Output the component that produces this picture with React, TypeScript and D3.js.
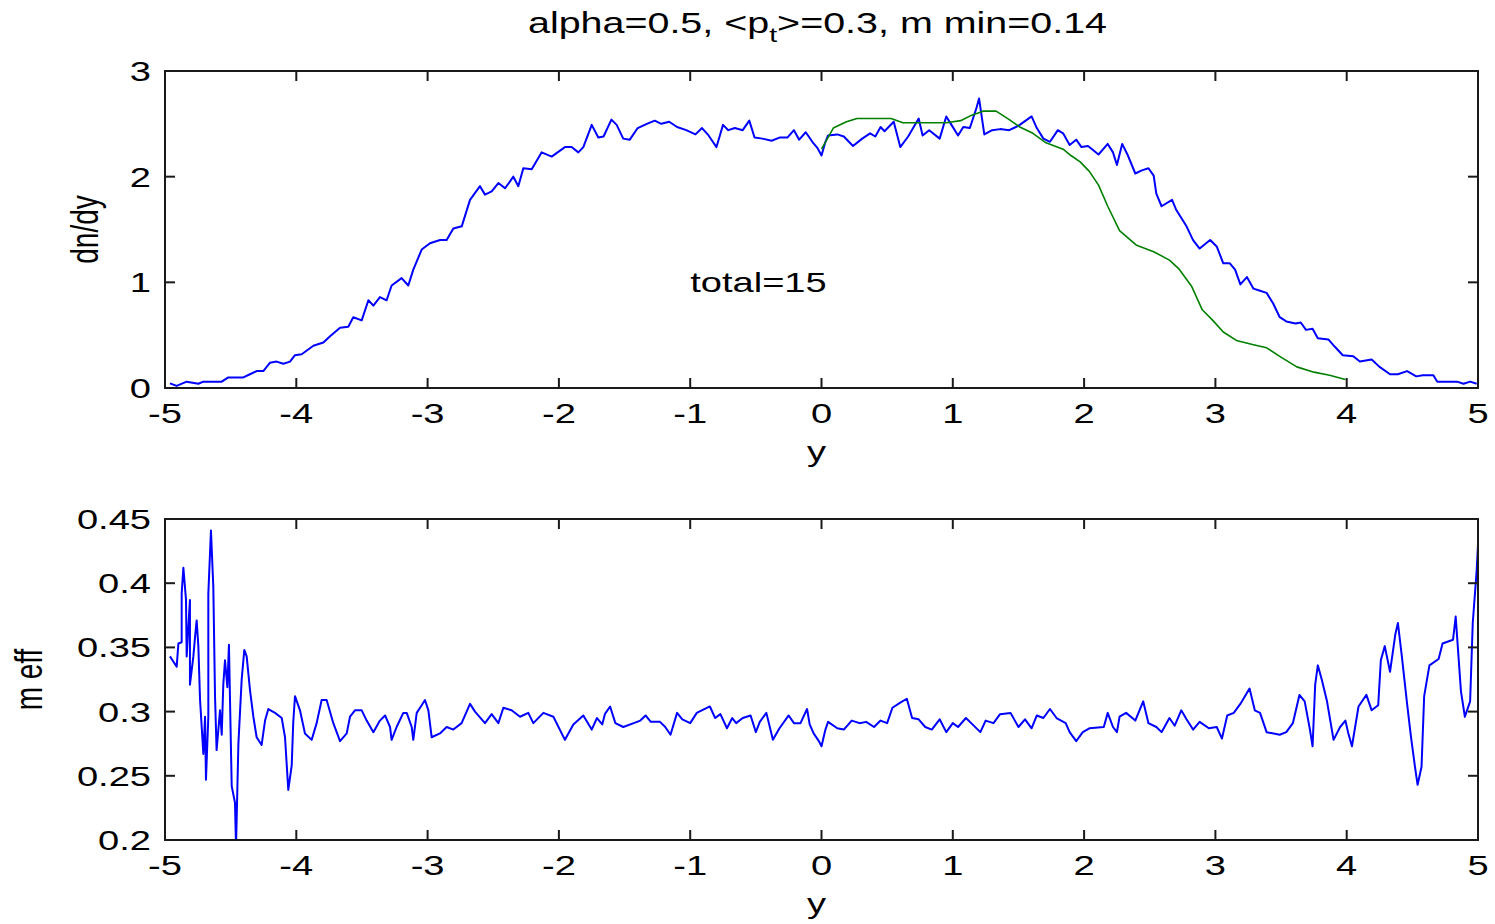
import React from "react";
import * as d3 from "d3";

// ---------- data ----------
const xTicks = [-5, -4, -3, -2, -1, 0, 1, 2, 3, 4, 5];
const topYTicks = [0, 1, 2, 3];
const botYTicks = [0.2, 0.25, 0.3, 0.35, 0.4, 0.45];
const botYTickLabels = ["0.2", "0.25", "0.3", "0.35", "0.4", "0.45"];

const dndyX = [
  -4.962, -4.911, -4.835, -4.746, -4.708, -4.568, -4.518, -4.403, -4.353, -4.302, -4.251, -4.2, -4.15, -4.099, -4.048,
  -4.01, -3.959, -3.87, -3.794, -3.743, -3.667, -3.604, -3.566, -3.502, -3.451, -3.413, -3.363, -3.312, -3.274, -3.198,
  -3.147, -3.109, -3.045, -2.982, -2.905, -2.855, -2.804, -2.74, -2.677, -2.601, -2.563, -2.512, -2.461, -2.41, -2.347,
  -2.309, -2.271, -2.207, -2.131, -2.055, -1.954, -1.903, -1.852, -1.814, -1.75, -1.7, -1.66, -1.6, -1.56, -1.51,
  -1.46, -1.4, -1.33, -1.27, -1.22, -1.16, -1.1, -1.03, -0.96, -0.91, -0.86, -0.8, -0.75, -0.71, -0.66, -0.6, -0.55,
  -0.51, -0.45, -0.38, -0.32, -0.26, -0.21, -0.17, -0.12, -0.07, -0.03, 0.0, 0.03, 0.05, 0.12, 0.17, 0.24, 0.31, 0.37,
  0.41, 0.45, 0.48, 0.55, 0.6, 0.66, 0.74, 0.77, 0.82, 0.9, 0.95, 0.99, 1.04, 1.08, 1.13, 1.18, 1.2, 1.24, 1.3, 1.36,
  1.43, 1.48, 1.51, 1.6, 1.64, 1.69, 1.74, 1.8, 1.84, 1.89, 1.94, 1.98, 2.03, 2.11, 2.18, 2.22, 2.25, 2.29, 2.33, 2.39,
  2.44, 2.49, 2.53, 2.55, 2.59, 2.67, 2.7, 2.78, 2.83, 2.88, 2.96, 3.01, 3.06, 3.11, 3.15, 3.19, 3.24, 3.29, 3.34,
  3.39, 3.44, 3.49, 3.54, 3.61, 3.65, 3.69, 3.74, 3.78, 3.86, 3.91, 3.97, 4.05, 4.1, 4.19, 4.25, 4.33, 4.39, 4.46,
  4.53, 4.58, 4.66, 4.69, 4.84, 4.89, 4.94, 4.99,
];
const dndyY = [
  0.044, 0.02, 0.06, 0.04, 0.06, 0.06, 0.1, 0.1, 0.13, 0.16, 0.16, 0.24, 0.25, 0.23, 0.25,
  0.31, 0.32, 0.4, 0.43, 0.49, 0.57, 0.58, 0.67, 0.64, 0.83, 0.78, 0.86, 0.83, 0.97, 1.04,
  0.97, 1.12, 1.31, 1.37, 1.4, 1.4, 1.51, 1.53, 1.78, 1.91, 1.83, 1.86, 1.94, 1.89, 2.0,
  1.91, 2.08, 2.07, 2.23, 2.19, 2.28, 2.28, 2.23, 2.28, 2.49, 2.37, 2.38, 2.54, 2.49, 2.36,
  2.35, 2.46, 2.5, 2.53, 2.5, 2.52, 2.47, 2.44, 2.4, 2.46, 2.39, 2.28, 2.49, 2.44, 2.46, 2.44, 2.53,
  2.37, 2.36, 2.34, 2.37, 2.37, 2.44, 2.35, 2.42, 2.33, 2.27, 2.2, 2.33, 2.39, 2.4, 2.38, 2.29, 2.36, 2.41,
  2.38, 2.47, 2.43, 2.52, 2.28, 2.38, 2.55, 2.39, 2.44, 2.36, 2.57, 2.49, 2.39, 2.47, 2.46, 2.65, 2.74, 2.4, 2.44, 2.45,
  2.44, 2.47, 2.49, 2.57, 2.46, 2.36, 2.33, 2.44, 2.41, 2.3, 2.35, 2.28, 2.29, 2.21, 2.31, 2.23, 2.11, 2.31, 2.21, 2.03,
  2.06, 2.08, 2.01, 1.84, 1.72, 1.78, 1.69, 1.53, 1.4, 1.32, 1.4, 1.34, 1.18, 1.18, 1.12, 0.98, 1.05, 0.94, 0.92,
  0.9, 0.8, 0.67, 0.63, 0.61, 0.62, 0.55, 0.56, 0.47, 0.46, 0.39, 0.31, 0.3, 0.25, 0.27, 0.2, 0.13, 0.13, 0.16,
  0.11, 0.12, 0.12, 0.06, 0.06, 0.04, 0.06, 0.04,
];

const fitX = [
  0.0, 0.09, 0.19, 0.27, 0.53, 0.62, 0.72, 0.95, 1.06, 1.14, 1.23, 1.33, 1.43, 1.51, 1.61, 1.71, 1.84, 1.9, 1.97,
  2.04, 2.11, 2.18, 2.27, 2.4, 2.53, 2.65, 2.72, 2.82, 2.9, 2.98, 3.06, 3.16, 3.29, 3.39, 3.49, 3.62, 3.75, 3.87, 3.99,
];
const fitY = [
  2.26, 2.46, 2.52, 2.55, 2.55, 2.51, 2.51, 2.51, 2.53, 2.58, 2.62, 2.62, 2.54, 2.47, 2.41, 2.32, 2.26, 2.2, 2.14,
  2.05, 1.92, 1.72, 1.49, 1.35, 1.29, 1.21, 1.13, 0.96, 0.74, 0.64, 0.53, 0.45, 0.41, 0.38, 0.3, 0.2, 0.15, 0.12, 0.08,
];

const meffX = [
  -4.962, -4.937, -4.911, -4.898, -4.873, -4.873, -4.86, -4.84, -4.835, -4.81, -4.81, -4.784, -4.772, -4.759, -4.746,
  -4.733, -4.708, -4.695, -4.688, -4.67, -4.67, -4.65, -4.632, -4.619, -4.607, -4.581, -4.568, -4.556, -4.543, -4.525,
  -4.513, -4.492, -4.467, -4.459, -4.441, -4.416, -4.396, -4.378, -4.353, -4.327, -4.302, -4.264, -4.238, -4.213,
  -4.162, -4.111, -4.086, -4.061, -4.035, -4.023, -4.01, -3.972, -3.934, -3.883, -3.845, -3.807, -3.769, -3.718,
  -3.667, -3.616, -3.591, -3.553, -3.502, -3.464, -3.413, -3.363, -3.324, -3.286, -3.274, -3.236, -3.185, -3.159,
  -3.121, -3.109, -3.083, -3.045, -3.02, -2.994, -2.969, -2.906, -2.855, -2.804, -2.741, -2.677, -2.639, -2.563,
  -2.512, -2.461, -2.423, -2.36, -2.296, -2.233, -2.195, -2.118, -2.042, -1.954, -1.89, -1.814, -1.75, -1.71, -1.67,
  -1.65, -1.61, -1.57, -1.51, -1.43, -1.38, -1.34, -1.3, -1.23, -1.19, -1.15, -1.1, -1.06, -1.0, -0.95, -0.85, -0.81,
  -0.77, -0.72, -0.68, -0.65, -0.6, -0.54, -0.5, -0.47, -0.42, -0.37, -0.32, -0.25, -0.21, -0.16, -0.11, -0.09, -0.06,
  -0.02, 0.0, 0.03, 0.05, 0.12, 0.17, 0.23, 0.29, 0.34, 0.4, 0.45, 0.5, 0.54, 0.6, 0.65, 0.69, 0.74, 0.79, 0.84, 0.9,
  0.95, 1.0, 1.04, 1.1, 1.14, 1.21, 1.25, 1.31, 1.36, 1.44, 1.5, 1.55, 1.6, 1.64, 1.69, 1.74, 1.79, 1.86, 1.89, 1.94,
  1.99, 2.04, 2.15, 2.18, 2.22, 2.25, 2.27, 2.32, 2.39, 2.45, 2.49, 2.55, 2.59, 2.65, 2.69, 2.74, 2.78, 2.83, 2.88,
  2.95, 3.01, 3.05, 3.09, 3.14, 3.19, 3.26, 3.3, 3.34, 3.39, 3.49, 3.54, 3.59, 3.64, 3.68, 3.72, 3.74, 3.76, 3.78,
  3.81, 3.85, 3.9, 3.95, 3.99, 4.01, 4.04, 4.09, 4.15, 4.19, 4.24, 4.26, 4.29, 4.33, 4.37, 4.39, 4.42, 4.46, 4.49,
  4.52, 4.54, 4.57, 4.59, 4.63, 4.7, 4.73, 4.81, 4.83, 4.87, 4.9, 4.94, 4.96, 4.99, 5.0,
];
const meffY = [
  0.343, 0.339, 0.335, 0.353, 0.354, 0.392, 0.412, 0.387, 0.343, 0.387, 0.321, 0.343, 0.357, 0.371, 0.351,
  0.309, 0.267, 0.296, 0.247, 0.296, 0.392, 0.441, 0.397, 0.312, 0.27, 0.301, 0.282, 0.321, 0.34, 0.319,
  0.352, 0.242, 0.229, 0.195, 0.275, 0.325, 0.348, 0.343, 0.317, 0.296, 0.28, 0.274, 0.293, 0.302,
  0.299, 0.295, 0.28, 0.239, 0.258, 0.292, 0.312, 0.301, 0.283, 0.278, 0.291, 0.309, 0.309, 0.291,
  0.277, 0.283, 0.296, 0.301, 0.301, 0.293, 0.284, 0.293, 0.297, 0.288, 0.278, 0.288, 0.299, 0.299,
  0.288, 0.278, 0.299, 0.305, 0.309, 0.301, 0.28, 0.283, 0.288, 0.286, 0.291, 0.306, 0.3, 0.291,
  0.298, 0.291, 0.303, 0.301, 0.296, 0.299, 0.291, 0.299, 0.296, 0.278, 0.29, 0.297, 0.286, 0.295, 0.29,
  0.298, 0.304, 0.291, 0.288, 0.291, 0.293, 0.297, 0.292, 0.292, 0.288, 0.282, 0.299, 0.294, 0.291, 0.299, 0.304, 0.295,
  0.298, 0.287, 0.295, 0.291, 0.295, 0.297, 0.284, 0.292, 0.299, 0.278, 0.287, 0.297, 0.291, 0.291, 0.302, 0.29, 0.283,
  0.277, 0.273, 0.286, 0.292, 0.287, 0.286, 0.293, 0.291, 0.292, 0.288, 0.293, 0.291, 0.303, 0.307, 0.31, 0.295, 0.294, 0.288, 0.286, 0.294,
  0.284, 0.291, 0.288, 0.295, 0.291, 0.284, 0.293, 0.291, 0.298, 0.299, 0.288, 0.294, 0.287, 0.297, 0.295, 0.302, 0.295, 0.291, 0.284, 0.277,
  0.284, 0.287, 0.288, 0.299, 0.288, 0.284, 0.296, 0.299, 0.293, 0.308, 0.291, 0.288, 0.284, 0.295, 0.289, 0.301, 0.294, 0.286, 0.292,
  0.287, 0.288, 0.279, 0.297, 0.299, 0.306, 0.318, 0.301, 0.299, 0.284, 0.282, 0.284, 0.291, 0.313, 0.308, 0.286, 0.273, 0.321, 0.336,
  0.325, 0.308, 0.278, 0.288, 0.293, 0.284, 0.273, 0.304, 0.313, 0.301, 0.305, 0.34, 0.351, 0.331, 0.36, 0.369, 0.343, 0.306, 0.28,
  0.257, 0.243, 0.257, 0.312, 0.336, 0.341, 0.353, 0.356, 0.374, 0.316, 0.296, 0.308, 0.369, 0.41, 0.43,
];

// ---------- layout ----------
const W = 1495;
const H = 924;
const LEFT = 165;
const RIGHT = 1478;
const TOP1 = 71;
const BOT1 = 388;
const TOP2 = 519;
const BOT2 = 840;
const SX = 1.36; // horizontal stretch of the reference text
const FONT = "'Liberation Sans', Arial, Helvetica, sans-serif";
const FS = 28;
const AXIS = "#1a1a1a";

type TProps = {
  x: number;
  y: number;
  anchor?: "start" | "middle" | "end";
  size?: number;
  rotate?: boolean;
  children: React.ReactNode;
};

function T({ x, y, anchor = "middle", size = FS, rotate = false, children }: TProps) {
  const tf = rotate
    ? `translate(${x},${y}) rotate(-90) scale(1,${SX})`
    : `translate(${x},${y}) scale(${SX},1)`;
  return (
    <text transform={tf} textAnchor={anchor} fontFamily={FONT} fontSize={size} fill="#000">
      {children}
    </text>
  );
}

type Series = { xs: number[]; ys: number[]; color: string; width: number };

function Panel({
  top,
  bottom,
  yDomain,
  yTicks,
  yTickLabels,
  ylabel,
  ylabelX,
  series,
  clipId,
  extra,
}: {
  top: number;
  bottom: number;
  yDomain: [number, number];
  yTicks: number[];
  yTickLabels: string[];
  ylabel: string;
  ylabelX: number;
  series: Series[];
  clipId: string;
  extra?: (x: d3.ScaleLinear<number, number>, y: d3.ScaleLinear<number, number>) => React.ReactNode;
}) {
  const x = d3.scaleLinear().domain([-5, 5]).range([LEFT, RIGHT]);
  const y = d3.scaleLinear().domain(yDomain).range([bottom, top]);
  const tl = 10;
  return (
    <g>
      <defs>
        <clipPath id={clipId}>
          <rect x={LEFT} y={top} width={RIGHT - LEFT} height={bottom - top} />
        </clipPath>
      </defs>
      <rect x={LEFT} y={top} width={RIGHT - LEFT} height={bottom - top} fill="#fff" />
      <g clipPath={`url(#${clipId})`}>
        {series.map((s, i) => {
          const pts: [number, number][] = s.xs.map((v, j) => [v, s.ys[j]]);
          const line = d3
            .line<[number, number]>()
            .x((d) => x(d[0]))
            .y((d) => y(d[1]));
          return (
            <path
              key={i}
              d={line(pts) || ""}
              fill="none"
              stroke={s.color}
              strokeWidth={s.width}
              strokeLinejoin="round"
            />
          );
        })}
      </g>
      {xTicks.map((t) => (
        <g key={"xt" + t} stroke={AXIS} strokeWidth={2}>
          <line x1={x(t)} x2={x(t)} y1={bottom} y2={bottom - tl} />
          <line x1={x(t)} x2={x(t)} y1={top} y2={top + tl} />
        </g>
      ))}
      {yTicks.map((t) => (
        <g key={"yt" + t} stroke={AXIS} strokeWidth={2}>
          <line x1={LEFT} x2={LEFT + tl} y1={y(t)} y2={y(t)} />
          <line x1={RIGHT} x2={RIGHT - tl} y1={y(t)} y2={y(t)} />
        </g>
      ))}
      <rect
        x={LEFT}
        y={top}
        width={RIGHT - LEFT}
        height={bottom - top}
        fill="none"
        stroke={AXIS}
        strokeWidth={2}
      />
      {xTicks.map((t) => (
        <T key={"xl" + t} x={x(t)} y={bottom + 35}>
          {String(t)}
        </T>
      ))}
      {yTicks.map((t, i) => (
        <T key={"yl" + t} x={LEFT - 14} y={y(t) + 10} anchor="end">
          {yTickLabels[i]}
        </T>
      ))}
      <T x={(LEFT + RIGHT) / 2 - 5} y={bottom + 73}>
        y
      </T>
      <T x={ylabelX} y={(top + bottom) / 2} rotate>
        {ylabel}
      </T>
      {extra && extra(x, y)}
    </g>
  );
}

export default function App() {
  return (
    <svg width={W} height={H} style={{ display: "block", position: "absolute", left: 0, top: 0 }}>
      <rect x={0} y={0} width={W} height={H} fill="#fff" />
      <text
        transform={`translate(${(LEFT + RIGHT) / 2 - 4},33) scale(${SX},1)`}
        textAnchor="middle"
        fontFamily={FONT}
        fontSize={29}
        fill="#000"
      >
        alpha=0.5, &lt;p
        <tspan fontSize={21} dy={9}>
          t
        </tspan>
        <tspan dy={-9}>&gt;=0.3, m min=0.14</tspan>
      </text>
      <Panel
        top={TOP1}
        bottom={BOT1}
        yDomain={[0, 3]}
        yTicks={topYTicks}
        yTickLabels={topYTicks.map(String)}
        ylabel="dn/dy"
        ylabelX={98}
        clipId="clip1"
        series={[
          { xs: dndyX, ys: dndyY, color: "#0000ff", width: 2 },
          { xs: fitX, ys: fitY, color: "#008000", width: 1.6 },
        ]}
        extra={(x, y) => (
          <T x={x(-1)} y={y(1) + 10} anchor="start">
            total=15
          </T>
        )}
      />
      <Panel
        top={TOP2}
        bottom={BOT2}
        yDomain={[0.2, 0.45]}
        yTicks={botYTicks}
        yTickLabels={botYTickLabels}
        ylabel="m eff"
        ylabelX={42}
        clipId="clip2"
        series={[{ xs: meffX, ys: meffY, color: "#0000ff", width: 2 }]}
      />
    </svg>
  );
}
